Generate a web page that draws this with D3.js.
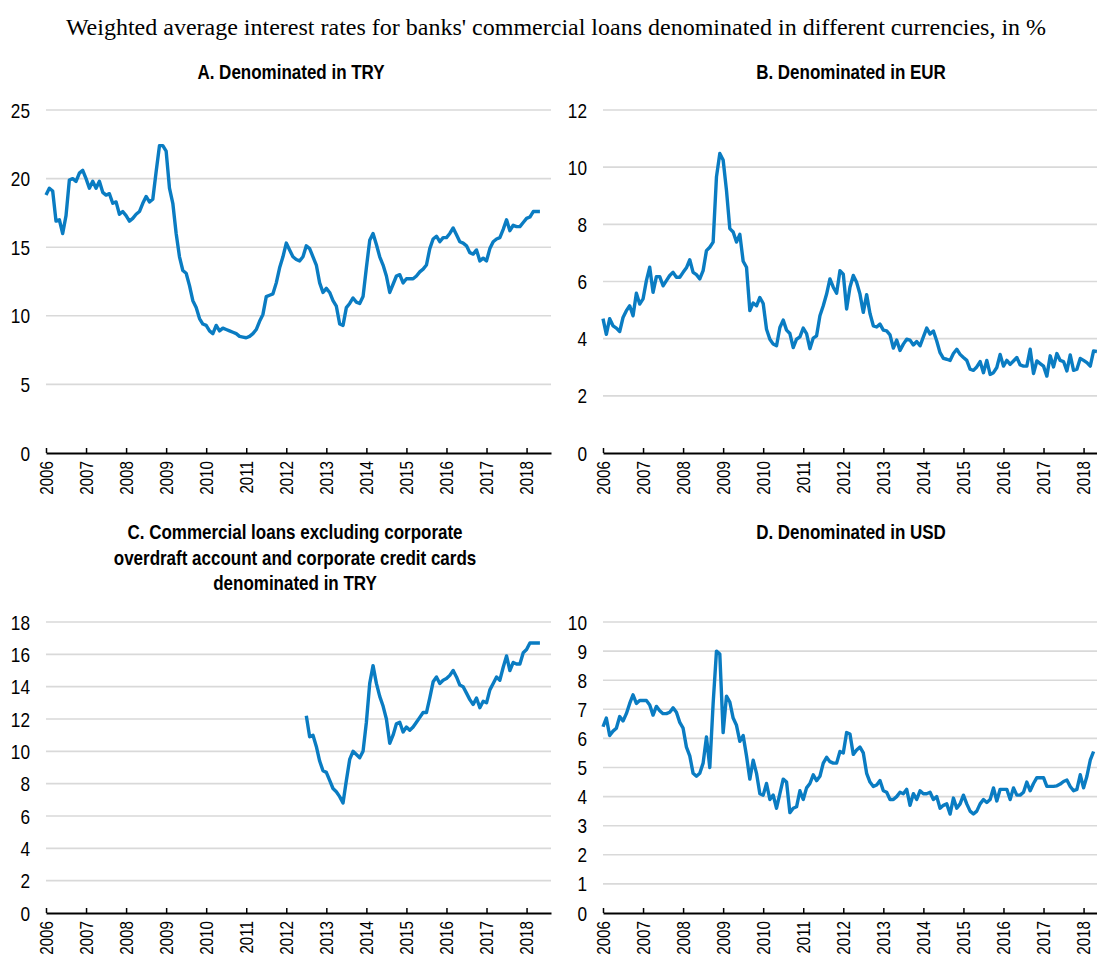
<!DOCTYPE html>
<html>
<head>
<meta charset="utf-8">
<script src="https://cdn.jsdelivr.net/npm/d3@7"></script>
<style>
  body { margin: 0; background: #fff; }
  svg { display: block; }
  .grid line { stroke: #d9d9d9; stroke-width: 1.6; }
  .x-axis path { stroke: #000; stroke-width: 2; }
  .x-axis line { stroke: #000; stroke-width: 1.5; }
  .lbl { font-family: "Liberation Sans", Arial, sans-serif; fill: #000; }
</style>
</head>
<body>
<div id="chart"></div>
<script>
// monthly values, Jan 2006 onwards (one row per year)
const tryRates = [
  18.8, 19.3, 19.1, 16.9, 17.0, 16.0, 17.3, 19.9, 20.0, 19.8, 20.4, 20.6,
  20.0, 19.3, 19.8, 19.3, 19.8, 19.0, 18.8, 18.9, 18.2, 18.3, 17.4, 17.6,
  17.3, 16.9, 17.1, 17.4, 17.6, 18.2, 18.7, 18.3, 18.5, 20.5, 22.4, 22.4,
  22.0, 19.3, 18.2, 16.0, 14.3, 13.3, 13.1, 12.2, 11.1, 10.6, 9.8, 9.4,
  9.3, 8.9, 8.7, 9.3, 8.9, 9.1, 9.0, 8.9, 8.8, 8.7, 8.5, 8.45,
  8.4, 8.5, 8.7, 9.0, 9.6, 10.1, 11.4, 11.5, 11.6, 12.4, 13.5, 14.3,
  15.3, 14.8, 14.3, 14.1, 14.0, 14.3, 15.1, 14.9, 14.3, 13.7, 12.4, 11.7,
  12.0, 11.7, 11.1, 10.7, 9.4, 9.3, 10.6, 10.9, 11.3, 11.0, 10.9, 11.4,
  13.5, 15.5, 16.0, 15.2, 14.3, 13.7, 12.9, 11.7, 12.3, 12.9, 13.0, 12.4,
  12.7, 12.7, 12.7, 12.9, 13.2, 13.4, 13.7, 14.9, 15.6, 15.8, 15.4, 15.7,
  15.7, 16.0, 16.4, 15.9, 15.4, 15.3, 15.1, 14.6, 14.5, 14.8, 14.0, 14.2,
  14.0, 14.9, 15.4, 15.6, 15.7, 16.3, 17.0, 16.2, 16.6, 16.5, 16.5, 16.8,
  17.1, 17.2, 17.6, 17.6, 17.6
];

const eurRates = [
  4.7, 4.15, 4.7, 4.45, 4.37, 4.25, 4.74, 4.98, 5.15, 4.8, 5.59, 5.21,
  5.39, 6.03, 6.5, 5.62, 6.17, 6.17, 5.85, 6.03, 6.21, 6.32, 6.15, 6.15,
  6.32, 6.48, 6.76, 6.32, 6.24, 6.09, 6.38, 7.08, 7.2, 7.38, 9.66, 10.48,
  10.25, 9.19, 7.85, 7.73, 7.38, 7.65, 6.71, 6.5, 4.98, 5.25, 5.15, 5.44,
  5.23, 4.33, 3.98, 3.81, 3.75, 4.39, 4.65, 4.3, 4.18, 3.69, 3.98, 4.06,
  4.37, 4.18, 3.65, 4.02, 4.1, 4.8, 5.15, 5.56, 6.09, 5.8, 5.59, 6.38,
  6.26, 5.04, 5.8, 6.21, 5.97, 5.56, 4.92, 5.54, 4.88, 4.45, 4.41, 4.51,
  4.3, 4.27, 4.13, 3.67, 3.95, 3.59, 3.81, 3.98, 3.95, 3.78, 3.9, 3.75,
  4.06, 4.37, 4.16, 4.27, 3.92, 3.51, 3.31, 3.28, 3.24, 3.48, 3.63, 3.45,
  3.34, 3.24, 2.93, 2.89, 3.01, 3.2, 2.81, 3.24, 2.75, 2.81, 2.99, 3.45,
  3.04, 3.24, 3.1, 3.22, 3.34, 3.08, 3.04, 3.04, 3.63, 2.78, 3.22, 3.13,
  3.04, 2.69, 3.4, 3.01, 3.48, 3.24, 3.2, 2.87, 3.43, 2.89, 2.93, 3.31,
  3.24, 3.16, 3.04, 3.57, 3.55
];

// series C starts in July 2012
const tryExclStart = [2012, 6];
const tryExclRates = [
  12.2, 10.9, 11.0, 10.3, 9.4, 8.8,
  8.7, 8.2, 7.7, 7.5, 7.2, 6.8, 8.2, 9.5, 10.0, 9.8, 9.6, 10.0,
  11.8, 14.2, 15.3, 14.2, 13.4, 12.8, 12.0, 10.5, 11.0, 11.7, 11.8, 11.2,
  11.5, 11.3, 11.5, 11.8, 12.1, 12.4, 12.4, 13.3, 14.3, 14.6, 14.2, 14.4,
  14.5, 14.7, 15.0, 14.6, 14.1, 14.0, 13.6, 13.2, 12.9, 13.3, 12.7, 13.1,
  13.0, 13.8, 14.2, 14.6, 14.4, 15.2, 15.9, 15.0, 15.5, 15.4, 15.4, 16.1,
  16.3, 16.7, 16.7, 16.7, 16.7
];

const usdRates = [
  6.4, 6.7, 6.1, 6.25, 6.35, 6.75, 6.6, 6.85, 7.2, 7.5, 7.2, 7.3,
  7.3, 7.3, 7.15, 6.8, 7.1, 6.95, 6.85, 6.85, 6.9, 7.05, 6.9, 6.55,
  6.35, 5.7, 5.4, 4.8, 4.7, 4.8, 5.15, 6.05, 5.0, 7.2, 9.0, 8.9,
  6.2, 7.45, 7.25, 6.7, 6.45, 5.9, 6.1, 5.4, 4.6, 5.25, 4.8, 4.1,
  4.05, 4.45, 3.9, 4.05, 3.6, 4.1, 4.6, 4.5, 3.45, 3.6, 3.65, 4.2,
  3.9, 4.3, 4.45, 4.75, 4.55, 4.7, 5.15, 5.35, 5.2, 5.15, 5.15, 5.55,
  5.5, 6.2, 6.15, 5.45, 5.6, 5.7, 5.5, 4.8, 4.5, 4.35, 4.4, 4.55,
  4.2, 4.15, 3.9, 3.9, 4.0, 4.15, 4.1, 4.25, 3.7, 4.1, 3.9, 4.2,
  4.1, 4.1, 4.15, 3.9, 4.0, 3.6, 3.7, 3.75, 3.4, 3.95, 3.6, 3.75,
  4.05, 3.75, 3.5, 3.4, 3.5, 3.75, 3.9, 3.8, 3.9, 4.3, 3.85, 4.25,
  4.25, 4.25, 3.9, 4.3, 4.05, 4.05, 4.15, 4.5, 4.2, 4.45, 4.65, 4.65,
  4.65, 4.35, 4.35, 4.35, 4.37, 4.43, 4.52, 4.57, 4.35, 4.2, 4.25, 4.75,
  4.3, 4.7, 5.25, 5.55
];

const years = [2006, 2007, 2008, 2009, 2010, 2011, 2012, 2013, 2014, 2015, 2016, 2017, 2018];
const tryTicks = [0, 5, 10, 15, 20, 25];
const eurTicks = [0, 2, 4, 6, 8, 10, 12];
const tryExclTicks = [0, 2, 4, 6, 8, 10, 12, 14, 16, 18];
const usdTicks = [0, 1, 2, 3, 4, 5, 6, 7, 8, 9, 10];

const mainTitle = "Weighted average interest rates for banks' commercial loans denominated in different currencies, in %";

const width = 1097;
const height = 956;
const narrow = 0.82;   // squeeze Liberation Sans towards Arial Narrow
const blue = '#0a7cc2';

const svg = d3.select('#chart')
  .append('svg')
  .attr('width', width)
  .attr('height', height);

svg.append('text')
  .attr('x', 556)
  .attr('y', 35)
  .attr('text-anchor', 'middle')
  .style('font-family', '"Liberation Serif", "Times New Roman", serif')
  .style('font-size', '24px')
  .style('fill', '#000')
  .text(mainTitle);

// text squeezed horizontally, placed with a transform
function narrowText(g, x, y, str, size, anchor, rotate, bold, squeeze) {
  return g.append('text')
    .attr('class', 'lbl')
    .attr('transform', `translate(${x},${y})` + (rotate ? ` rotate(${rotate})` : '') + ` scale(${squeeze || narrow},1)`)
    .attr('text-anchor', anchor)
    .style('font-size', size + 'px')
    .style('font-weight', bold ? 'bold' : 'normal')
    .text(str);
}

const panels = [
  { title: ['A. Denominated in TRY'], titleX: 291, titleY: 79,
    left: 46, right: 551, top: 110, bottom: 453,
    ticks: tryTicks, values: tryRates, start: [2006, 0] },
  { title: ['B. Denominated in EUR'], titleX: 851, titleY: 79,
    left: 603, right: 1108, top: 110, bottom: 453,
    ticks: eurTicks, values: eurRates, start: [2006, 0] },
  { title: ['C. Commercial loans excluding corporate',
            'overdraft account and corporate credit cards',
            'denominated in TRY'], titleX: 295, titleY: 539,
    left: 46, right: 551, top: 622, bottom: 913,
    ticks: tryExclTicks, values: tryExclRates, start: tryExclStart },
  { title: ['D. Denominated in USD'], titleX: 851, titleY: 539,
    left: 603, right: 1108, top: 622, bottom: 913,
    ticks: usdTicks, values: usdRates, start: [2006, 0] }
];

panels.forEach(p => {
  const g = svg.append('g');

  const xScale = d3.scaleLinear()
                   .domain([2006, 2018.61])
                   .range([p.left, p.right]);
  const yScale = d3.scaleLinear()
                   .domain([0, d3.max(p.ticks)])
                   .range([p.bottom, p.top]);

  p.title.forEach((t, i) => {
    narrowText(g, p.titleX, p.titleY + i * 25.5, t, 20, 'middle', 0, true, 0.85);
  });

  g.append('g')
   .attr('class', 'grid')
   .selectAll('line')
   .data(p.ticks.filter(d => d > 0)).enter()
   .append('line')
   .attr('x1', p.left)
   .attr('x2', p.right)
   .attr('y1', d => yScale(d))
   .attr('y2', d => yScale(d));

  p.ticks.forEach(t => {
    narrowText(g, p.left - 16, yScale(t), t, 21, 'end', 0, false).attr('dy', '0.36em');
  });

  const xAxis = d3.axisBottom(xScale)
                  .tickValues(years)
                  .tickSize(-5)
                  .tickSizeOuter(0)
                  .tickFormat('');
  g.append('g')
   .attr('class', 'x-axis')
   .attr('transform', `translate(0, ${p.bottom})`)
   .call(xAxis);

  years.forEach(yr => {
    narrowText(g, xScale(yr), p.bottom + 8, yr, 18.5, 'end', -90, false).attr('dy', '0.36em');
  });

  const line = d3.line()
                 .x((d, i) => xScale(p.start[0] + (p.start[1] + i) / 12))
                 .y(d => yScale(d));

  g.append('path')
   .datum(p.values)
   .attr('d', line)
   .attr('fill', 'none')
   .attr('stroke', blue)
   .attr('stroke-width', 3.4)
   .attr('stroke-linejoin', 'round');
});
</script>
</body>
</html>
